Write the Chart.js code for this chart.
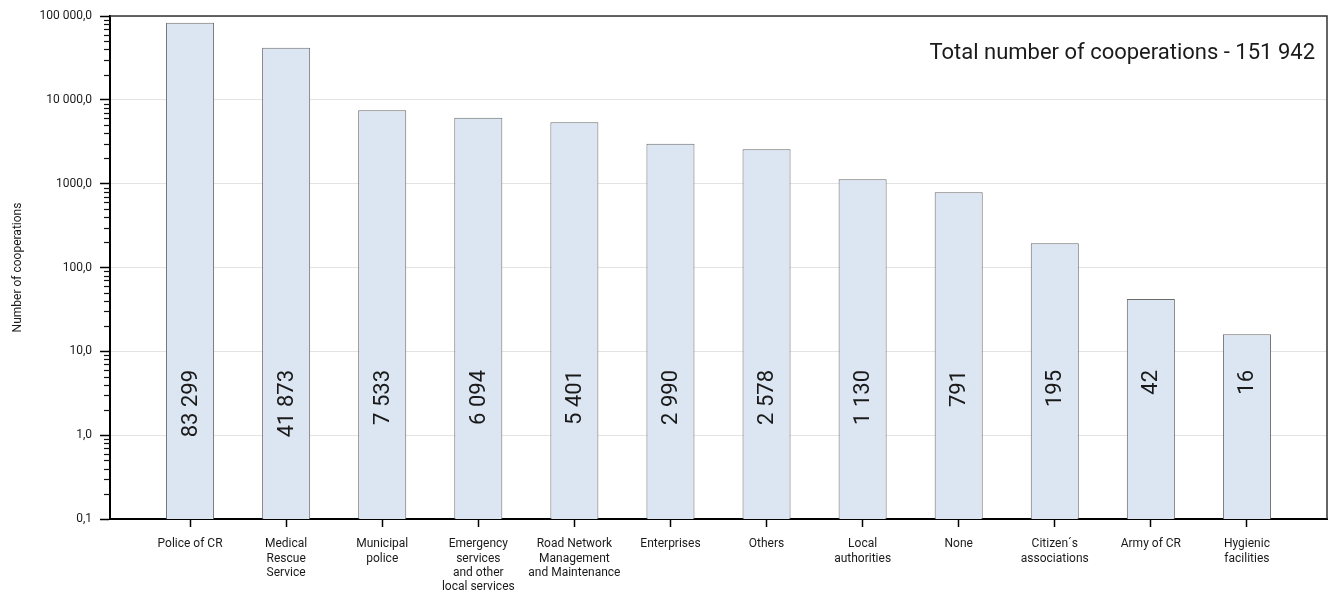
<!DOCTYPE html>
<html>
<head>
  <title>Cooperations by partner</title>
  <script src="https://cdn.jsdelivr.net/npm/chart.js"></script>
  <style>
    body { margin: 0; background: #fff; }
    .wrap { width: 1331px; height: 590px; position: relative; }
  </style>
</head>
<body>
  <div class="wrap"><canvas id="chart"></canvas></div>

  <script>
    // categories (multi-line labels) and values
    const categories = [
      ['Police of CR'],
      ['Medical', 'Rescue', 'Service'],
      ['Municipal', 'police'],
      ['Emergency', 'services', 'and other', 'local services'],
      ['Road Network', 'Management', 'and Maintenance'],
      ['Enterprises'],
      ['Others'],
      ['Local', 'authorities'],
      ['None'],
      ['Citizen\u00b4s', 'associations'],
      ['Army of CR'],
      ['Hygienic', 'facilities']
    ];
    const cooperations = [83299, 41873, 7533, 6094, 5401, 2990, 2578, 1130, 791, 195, 42, 16];
    const valueLabels = ['83 299', '41 873', '7 533', '6 094', '5 401', '2 990', '2 578', '1 130', '791', '195', '42', '16'];

    const yTickValues = [0.1, 1, 10, 100, 1000, 10000, 100000];
    const yTickLabels = ['0,1', '1,0', '10,0', '100,0', '1000,0', '10 000,0', '100 000,0'];

    const totalText = 'Total number of cooperations - 151 942';
    const fontFamily = 'Roboto, "Noto Sans", sans-serif';

    // frame, minor ticks, value labels and total text
    const extras = {
      id: 'extras',
      afterDatasetsDraw(chart) {
        const ctx = chart.ctx;
        const area = chart.chartArea;

        // rotated value labels inside the bars
        const meta = chart.getDatasetMeta(0);
        ctx.save();
        ctx.fillStyle = '#1a1a1a';
        ctx.font = '22px ' + fontFamily;
        meta.data.forEach((bar, i) => {
          ctx.save();
          ctx.translate(bar.x, area.bottom - 149);
          ctx.rotate(-Math.PI / 2);
          ctx.textAlign = 'right';
          ctx.textBaseline = 'middle';
          ctx.fillText(valueLabels[i], 0, 1);
          ctx.restore();
        });
        ctx.restore();
      },
      afterDraw(chart) {
        const ctx = chart.ctx;
        const area = chart.chartArea;
        const y = chart.scales.y;

        // minor ticks on the log axis
        ctx.save();
        ctx.strokeStyle = '#111';
        ctx.lineWidth = 1.2;
        for (let e = -1; e < 5; e++) {
          for (let m = 2; m <= 9; m++) {
            const py = Math.round(y.getPixelForValue(m * Math.pow(10, e))) + 0.5;
            ctx.beginPath();
            ctx.moveTo(area.left - 6, py);
            ctx.lineTo(area.left, py);
            ctx.stroke();
          }
        }

        // top and right frame
        ctx.strokeStyle = '#333';
        ctx.lineWidth = 1.5;
        ctx.beginPath();
        ctx.moveTo(area.left, area.top);
        ctx.lineTo(area.right, area.top);
        ctx.lineTo(area.right, area.bottom);
        ctx.stroke();

        // total text
        ctx.fillStyle = '#1a1a1a';
        ctx.font = '22px ' + fontFamily;
        ctx.textAlign = 'right';
        ctx.textBaseline = 'middle';
        ctx.fillText(totalText, area.right - 12, area.top + 37);
        ctx.restore();
      }
    };

    new Chart(document.getElementById('chart'), {
      type: 'bar',
      data: {
        datasets: [{
          data: cooperations.map((v, i) => ({ x: i, y: v })),
          backgroundColor: '#dce6f2',
          borderColor: '#6b6b6b',
          borderWidth: 1,
          barPercentage: 0.5,
          categoryPercentage: 1
        }]
      },
      options: {
        responsive: true,
        maintainAspectRatio: false,
        animation: false,
        layout: { padding: { top: 16, right: 4, left: 0, bottom: 0 } },
        plugins: {
          legend: { display: false },
          tooltip: { enabled: false }
        },
        scales: {
          x: {
            type: 'linear',
            offset: false,
            min: -0.8333,
            max: 11.8333,
            afterBuildTicks: s => { s.ticks = categories.map((c, i) => ({ value: i })); },
            afterFit: s => { s.height = 71; },
            ticks: {
              autoSkip: false,
              maxRotation: 0,
              padding: 10,
              color: '#1a1a1a',
              font: { family: fontFamily, size: 12 },
              callback: (v, i) => categories[i]
            },
            grid: {
              offset: false,
              drawOnChartArea: false,
              drawTicks: true,
              tickLength: 8,
              tickColor: '#000',
              tickWidth: 1.5
            },
            border: { color: '#000', width: 2 }
          },
          y: {
            type: 'logarithmic',
            min: 0.1,
            max: 100000,
            afterBuildTicks: s => { s.ticks = yTickValues.map(v => ({ value: v, major: true })); },
            afterFit: s => { s.width = 110; },
            ticks: {
              autoSkip: false,
              padding: 8,
              color: '#1a1a1a',
              font: { family: fontFamily, size: 12 },
              callback: (v, i) => yTickLabels[i]
            },
            grid: {
              color: '#e3e3e3',
              lineWidth: 1,
              drawTicks: true,
              tickLength: 10,
              tickColor: '#000',
              tickWidth: 1.5
            },
            border: { color: '#000', width: 2 },
            title: {
              display: true,
              text: 'Number of cooperations',
              color: '#1a1a1a',
              font: { family: fontFamily, size: 12 },
              padding: { top: 11, bottom: 0 }
            }
          }
        }
      },
      plugins: [extras]
    });
  </script>
</body>
</html>
